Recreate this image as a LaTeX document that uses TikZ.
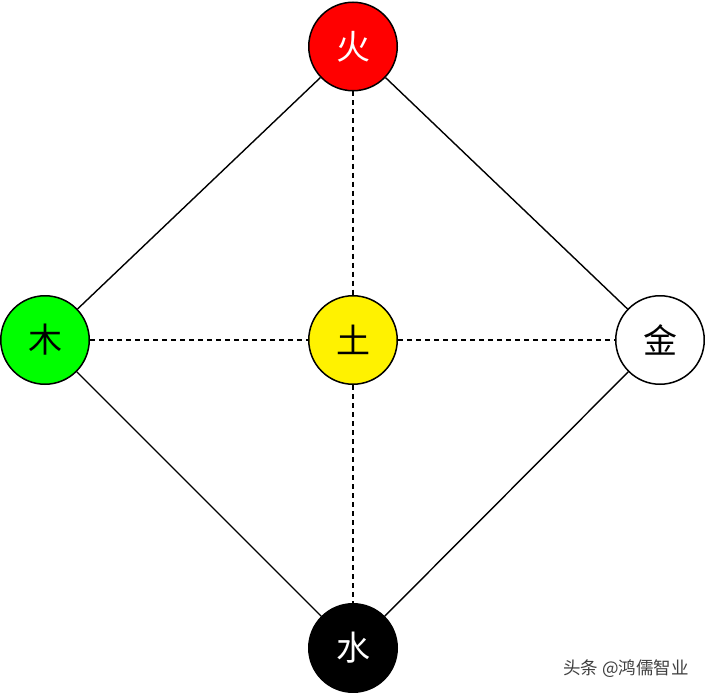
\documentclass[tikz,border=0pt]{standalone}
\usepackage{fontspec}
\newfontfamily\cjk{Noto Sans CJK SC}
\begin{document}
\begin{tikzpicture}[x=1pt,y=-1pt,
  elem/.style={circle,draw=black,line width=1.5pt,minimum size=88.5pt,inner sep=0pt,font=\cjk\fontsize{34}{34}\selectfont},
  edge/.style={line width=1.4pt},
  dashline/.style={line width=1.4pt,dash pattern=on 5pt off 4pt}]
\useasboundingbox (0,0) rectangle (705,693);
\fill[white] (0,0) rectangle (705,693);
\node[elem,fill=red,text=white] (fire) at (353,46.5) {火};
\node[elem,fill=green] (wood) at (45,340) {木};
\node[elem,fill=yellow] (earth) at (353,340) {土};
\node[elem,fill=white] (metal) at (660,340) {金};
\node[elem,fill=black,text=white] (water) at (353,648) {水};
\draw[edge] (fire) -- (wood);
\draw[edge] (fire) -- (metal);
\draw[edge] (water) -- (wood);
\draw[edge] (water) -- (metal);
\draw[dashline] (fire) -- (earth);
\draw[dashline] (earth) -- (water);
\draw[dashline] (wood) -- (earth);
\draw[dashline] (earth) -- (metal);
\node[font=\cjk\fontsize{17.5}{17.5}\selectfont,text=black!75,anchor=center] (wm) at (626,669) {头条 @鸿儒智业};
\end{tikzpicture}
\end{document}
